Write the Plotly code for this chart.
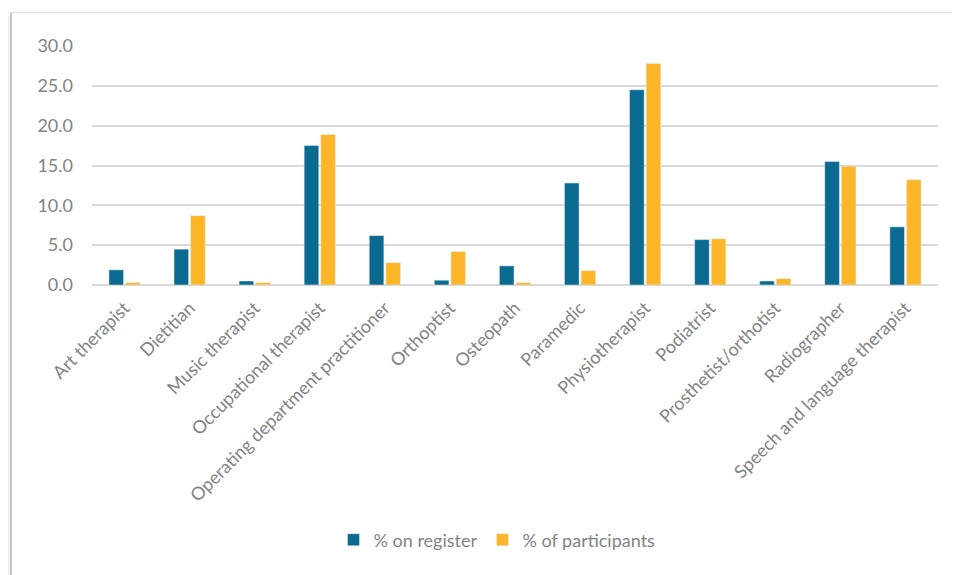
import plotly.graph_objects as go

categories = ["Art therapist", "Dietitian", "Music therapist", "Occupational therapist",
              "Operating department practitioner", "Orthoptist", "Osteopath", "Paramedic",
              "Physiotherapist", "Podiatrist", "Prosthetist/orthotist", "Radiographer",
              "Speech and language therapist"]
pct_register = [1.9, 4.5, 0.5, 17.5, 6.2, 0.6, 2.4, 12.8, 24.5, 5.7, 0.5, 15.5, 7.3]
pct_participants = [0.3, 8.7, 0.3, 18.9, 2.8, 4.2, 0.3, 1.8, 27.8, 5.8, 0.8, 14.9, 13.2]
y_ticks = [0, 5, 10, 15, 20, 25, 30]

BLUE = "#0b6a8f"
YELLOW = "#fcb627"
GREY_TXT = "#838383"

fig = go.Figure()
fig.add_trace(go.Bar(x=categories, y=pct_register, name="% on register", marker_color=BLUE))
fig.add_trace(go.Bar(x=categories, y=pct_participants, name="% of participants", marker_color=YELLOW))

OFF = 8  # page body margin
W, H = 960 - OFF, 575 - OFF
L, T = 92 - OFF, 46 - OFF
R = W - (938 - OFF)
B = H - (285 - OFF)
pw, ph = W - L - R, H - T - B

def px_x(px):
    return (px - OFF - L) / pw

def px_y(py):
    return 1 - (py - OFF - T) / ph

fig.update_layout(
    width=W, height=H,
    margin=dict(l=L, r=R, t=T, b=B, autoexpand=False),
    paper_bgcolor="white", plot_bgcolor="white",
    barmode="group", bargap=0.49, bargroupgap=0.12,
    font=dict(family="Lato, Carlito, sans-serif", size=18, color=GREY_TXT),
    legend=dict(orientation="h", x=px_x(497), xanchor="center", y=px_y(540), yanchor="middle",
                font=dict(size=18, color=GREY_TXT), itemwidth=30, traceorder="normal"),
    xaxis=dict(tickangle=-45, showgrid=False, showline=False, ticks="",
               ticklabelstandoff=8,
               tickfont=dict(size=18, color=GREY_TXT)),
    yaxis=dict(range=[0, 30], tickvals=y_ticks, tickformat=".1f", showgrid=True,
               gridcolor="#d9d9d9", gridwidth=1.5, zeroline=True, zerolinecolor="#d9d9d9",
               zerolinewidth=1.5, showline=False, ticks="", ticklabelstandoff=18,
               tickfont=dict(size=18, color=GREY_TXT)),
    shapes=[
        dict(type="line", xref="paper", yref="paper", x0=px_x(8), x1=px_x(8), y0=px_y(16), y1=px_y(580),
             line=dict(color="#ececec", width=4)),
        dict(type="line", xref="paper", yref="paper", x0=px_x(11), x1=px_x(11), y0=px_y(12), y1=px_y(580),
             line=dict(color="#b4b4b4", width=1.5)),
        dict(type="line", xref="paper", yref="paper", x0=px_x(11), x1=px_x(965), y0=px_y(12.5), y1=px_y(12.5),
             line=dict(color="#e2e2e2", width=1.5)),
    ],
)

fig.write_html("out.html")
